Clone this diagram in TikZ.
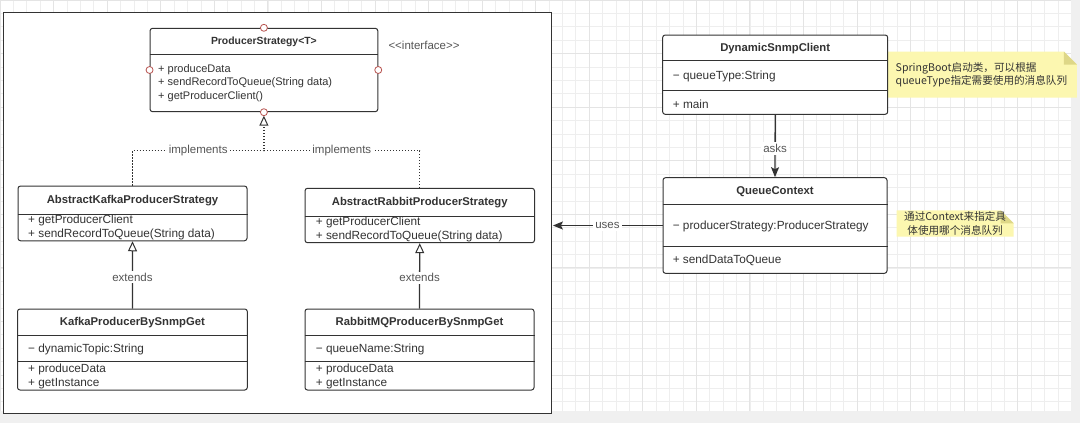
\documentclass[tikz,border=0pt]{standalone}
\usepackage{fontspec}
\setmainfont{Liberation Sans}
\newfontfamily\cjk{Noto Sans CJK SC}
\usetikzlibrary{arrows.meta, positioning, backgrounds}
\definecolor{umlline}{HTML}{333333}
\definecolor{umltext}{HTML}{333333}
\definecolor{umllabel}{HTML}{555555}
\definecolor{portred}{HTML}{B85450}
\definecolor{notefill}{RGB}{252,247,176}
\definecolor{notefold}{RGB}{222,215,135}
\definecolor{gridline}{HTML}{EEEEEE}
\definecolor{gridmajor}{HTML}{E4E4E4}
\definecolor{canvasgray}{HTML}{F0F0F0}

\begin{document}
\begin{tikzpicture}[x=1pt, y=-1pt,
    outerframe/.style={draw=umlline, fill=white, line width=1.2pt},
    cls/.style={draw=umlline, fill=white, rounded corners=2.5pt, line width=1pt, inner sep=0pt},
    sepline/.style={draw=umlline, line width=1pt},
    ttl/.style={font=\bfseries\fontsize{11.3}{13}\selectfont, text=umltext, inner sep=0pt},
    ttlsm/.style={ttl, font=\bfseries\fontsize{10.4}{12}\selectfont},
    mem/.style={anchor=west, align=left, font=\fontsize{11.8}{14.2}\selectfont, text=umltext, inner sep=0pt},
    memsm/.style={mem, font=\fontsize{11}{13.6}\selectfont},
    lbl/.style={fill=white, font=\fontsize{11.5}{13}\selectfont, text=umllabel, inner sep=2pt},
    port/.style={circle, draw=portred, fill=white, minimum size=7pt, inner sep=0pt, line width=0.8pt},
    impl/.style={draw=umlline, line width=1.3pt, dash pattern=on 1.3pt off 1.7pt},
    ext/.style={draw=umlline, line width=1.3pt},
    opentip/.style={-{Triangle[open, length=10pt, width=9pt, fill=white, line width=1pt]}},
    dep/.style={draw=umlline, line width=1.3pt, -{Stealth[length=10pt, width=8pt, inset=2pt]}},
    notebox/.style={font=\cjk\fontsize{10.6}{13.3}\selectfont, text=umltext, inner ysep=0pt}
  ]
    \useasboundingbox (0,0) rectangle (1080,423);

    % canvas with grid
    \begin{scope}[on background layer]
      \fill[canvasgray] (0,0) rectangle (1080,423);
      \fill[white] (0,0) rectangle (1071,411);
      \draw[gridline, line width=0.6pt] (0,0) grid[step=13.39pt] (1071,411);
      \draw[gridmajor, line width=0.7pt] (0,0) grid[step=53.56pt] (1071,411);
    \end{scope}

    \node[outerframe, minimum width=548pt, minimum height=400.6pt] (frame) at (277.7,213) {};

    % interface
    \node[cls, minimum width=227.7pt, minimum height=83.4pt] (ps) at (263.9,70) {};
    \draw[sepline] (ps.west |- 0,54.3) -- (ps.east |- 0,54.3);
    \node[ttlsm] (pst) at (263.9,41.7) {ProducerStrategy<T>};
    \node[memsm] (psm) at (158,82.9) {+ produceData\\+ sendRecordToQueue(String data)\\+ getProducerClient()};
    \node[lbl, fill=none] (psi) at (424,45) {<{}<interface>{}>};

    % abstract strategies
    \node[cls, minimum width=229pt, minimum height=54.7pt] (ak) at (132.5,213.4) {};
    \draw[sepline] (ak.west |- 0,214) -- (ak.east |- 0,214);
    \node[ttl] (akt) at (132.5,200.5) {AbstractKafkaProducerStrategy};
    \node[mem] (akm) at (28,227.2) {+ getProducerClient\\+ sendRecordToQueue(String data)};

    \node[cls, minimum width=229.5pt, minimum height=54.4pt] (ar) at (419.75,215.5) {};
    \draw[sepline] (ar.west |- 0,216) -- (ar.east |- 0,216);
    \node[ttl] (art) at (419.75,202.3) {AbstractRabbitProducerStrategy};
    \node[mem] (arm) at (315.7,229.5) {+ getProducerClient\\+ sendRecordToQueue(String data)};

    % concrete producers
    \node[cls, minimum width=229.8pt, minimum height=81pt] (kp) at (132.4,349.5) {};
    \draw[sepline] (kp.west |- 0,335) -- (kp.east |- 0,335);
    \draw[sepline] (kp.west |- 0,361.7) -- (kp.east |- 0,361.7);
    \node[ttl] (kpt) at (132.4,323) {KafkaProducerBySnmpGet};
    \node[mem] (kpf) at (28,349.3) {− dynamicTopic:String};
    \node[mem] (kpm) at (28,376.3) {+ produceData\\+ getInstance};

    \node[cls, minimum width=229pt, minimum height=81pt] (rp) at (419.5,349.5) {};
    \draw[sepline] (rp.west |- 0,335) -- (rp.east |- 0,335);
    \draw[sepline] (rp.west |- 0,361.7) -- (rp.east |- 0,361.7);
    \node[ttl] (rpt) at (419.5,323) {RabbitMQProducerBySnmpGet};
    \node[mem] (rpf) at (315.7,349.3) {− queueName:String};
    \node[mem] (rpm) at (315.7,376.3) {+ produceData\\+ getInstance};

    % client and context
    \node[cls, minimum width=225pt, minimum height=79.3pt] (dc) at (775.2,74.65) {};
    \draw[sepline] (dc.west |- 0,60.7) -- (dc.east |- 0,60.7);
    \draw[sepline] (dc.west |- 0,90) -- (dc.east |- 0,90);
    \node[ttl] (dct) at (775.2,48.5) {DynamicSnmpClient};
    \node[mem] (dcf) at (672.7,76) {− queueType:String};
    \node[mem] (dcm) at (672.7,104) {+ main};

    \node[cls, minimum width=224pt, minimum height=95.6pt] (qc) at (775,225.5) {};
    \draw[sepline] (qc.west |- 0,204) -- (qc.east |- 0,204);
    \draw[sepline] (qc.west |- 0,246.7) -- (qc.east |- 0,246.7);
    \node[ttl] (qct) at (775,191.2) {QueueContext};
    \node[mem] (qcf) at (672.6,226.7) {− producerStrategy:ProducerStrategy};
    \node[mem] (qcm) at (672.6,260.7) {+ sendDataToQueue};

    % notes
    \node[notebox, text width=173pt, inner xsep=8pt, minimum height=45.6pt, align=left] (n1) at (982.2,74.5)
      {SpringBoot启动类，可以根据\\queueType指定需要使用的消息队列};
    \node[notebox, minimum width=116.8pt, minimum height=26pt, align=center] (n2) at (955.1,223.5)
      {通过Context来指定具\\体使用哪个消息队列};
    \begin{scope}[on background layer]
      \foreach \n in {n1,n2} {
        \fill[notefill] (\n.south west) -- (\n.north west) -- ([xshift=-13pt]\n.north east)
          -- ([yshift=-13pt]\n.north east) -- (\n.south east) -- cycle;
        \fill[notefold] ([xshift=-13pt]\n.north east) -- ([xshift=-13pt, yshift=-13pt]\n.north east)
          -- ([yshift=-13pt]\n.north east) -- cycle;
      }
    \end{scope}

    % relations
    \draw[impl, opentip, shorten >=3.5pt] (ak.north) |- node[lbl, pos=0.75] (imp1) {implements} (ps.south |- 0,150.7) -- (ps.south);
    \draw[impl] (ar.north) |- node[lbl, pos=0.75] (imp2) {implements} (ps.south |- 0,150.7);
    \draw[ext, opentip] (kp.north) -- node[lbl, pos=0.47] (ext1) {extends} (ak.south);
    \draw[ext, opentip] (rp.north) -- node[lbl, pos=0.47] (ext2) {extends} (ar.south);
    \draw[dep] (dc.south) -- node[lbl, pos=0.54] (asks) {asks} (qc.north);
    \draw[dep, shorten >=0.6pt] (qc.west) -- node[lbl] (uses) {uses} (frame.east |- qc.west);

    \node[port] (pn) at (ps.north) {};
    \node[port] (pw) at (ps.west) {};
    \node[port] (pe) at (ps.east) {};
    \node[port] (psth) at (ps.south) {};
  \end{tikzpicture}
\end{document}
